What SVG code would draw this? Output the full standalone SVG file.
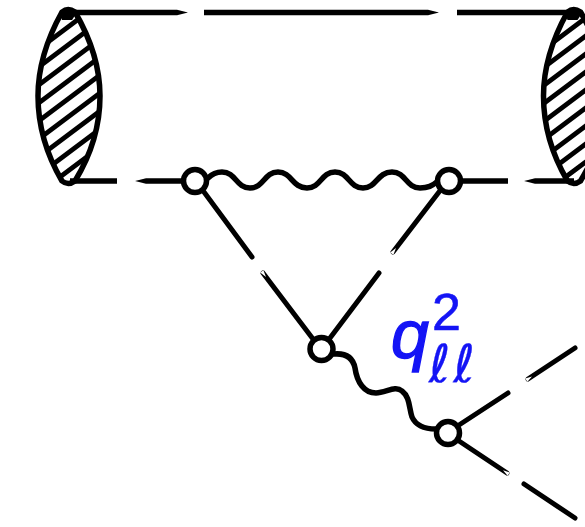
<svg xmlns="http://www.w3.org/2000/svg" width="585" height="527" viewBox="0 0 585 527">
<style>
.l{fill:none;stroke:#000;stroke-width:5.500}
.d{fill:none;stroke:#000;stroke-width:5;stroke-linecap:round}
.w{fill:none;stroke:#000;stroke-width:5.500;stroke-linecap:round;stroke-linejoin:round}
.h{stroke:#000;stroke-width:4.800}
.c{fill:#fff;stroke:#000;stroke-width:5.500}
.t{fill:#1414f5;stroke:#1414f5;font-family:"Liberation Sans",Arial,sans-serif}
</style>
<defs>
<clipPath id="cl"><path id="lens" d="M62 12Q68 7 75 12Q100 55 100 96Q100 140 75 181Q68 186 62 181Q38 140 38 96Q38 55 62 12Z"/></clipPath>
<g id="hatch">
<path class="h" d="M28 39L108 -21M28 57L108 -3M28 75L108 15M28 93L108 33M28 111L108 51M28 129L108 69M28 147L108 87M28 165L108 105M28 183L108 123M28 201L108 141"/>
</g>
</defs>
<g id="connectors">
<path class="l" d="M70 12.500H177M204 12.500H428M457 12.500H574M70 181H117M146 181H190M450 181H508M535 181H574"/>
<path d="M177 9.750L188 12.500L177 15.250ZM428 9.750L439 12.500L428 15.250ZM146 178.250L135 181L146 183.750ZM535 178.250L524 181L535 183.750Z"/>
<path class="d" d="M204 192L252 257M263 273L313 339M439 192L393 252M379 273L330 338M459 425L508 393M528 379L575 348M459 441L507 473M524 484L575 518"/>
<path fill="#fff" d="M396 248L393.400 254.800L390.200 252.400ZM266 277L263.400 270.200L260.200 272.600ZM532 376.400L527.400 381.800L525.200 378.400ZM503 470.200L509.800 472.400L507.600 475.800Z"/>
<path class="w" d="M208 178Q214 172 222 172C236 172 236 188 250 188C264 188 264 172 278 172C292 172 292 188 307 188C321 188 321 172 335 172C349 172 349 188 363 188C377 188 377 172 392 172C406 172 406 188 420 188C428 188 432 186 438 181"/>
<path class="w" d="M334 354C346 353 353 358 355 368C357 382 364 393 376 393C386 393 395 385 402 391C410 397 409 408 412 417C416 426 424 429 436 429"/>
</g>
<g id="lens-left"><g clip-path="url(#cl)"><use href="#hatch"/></g><use href="#lens" class="l"/><path d="M60 14Q68 5 76 14L72 20L62 20Z"/></g>
<g id="lens-right" transform="translate(505.500,0)"><g clip-path="url(#cl)"><use href="#hatch"/></g><use href="#lens" class="l"/><path d="M60 14Q68 5 76 14L72 20L62 20Z"/></g>
<g id="v1"><circle class="c" cx="195" cy="181" r="11.500"/></g>
<g id="v2"><circle class="c" cx="449" cy="181" r="11.500"/></g>
<g id="v3"><circle class="c" cx="321.500" cy="349" r="11.500"/></g>
<g id="v4"><circle class="c" cx="448" cy="433" r="11.500"/></g>
<g id="label">
<text class="t" x="391" y="358" font-size="68" font-style="italic" stroke-width="1.400">q</text>
<text class="t" x="432" y="330" font-size="52" stroke-width=".6">2</text>
<text class="t" x="429" y="382" font-size="52" font-style="italic" stroke-width=".3" letter-spacing="3" style="font-family:'DejaVu Sans',sans-serif">ℓℓ</text>
</g>
</svg>
